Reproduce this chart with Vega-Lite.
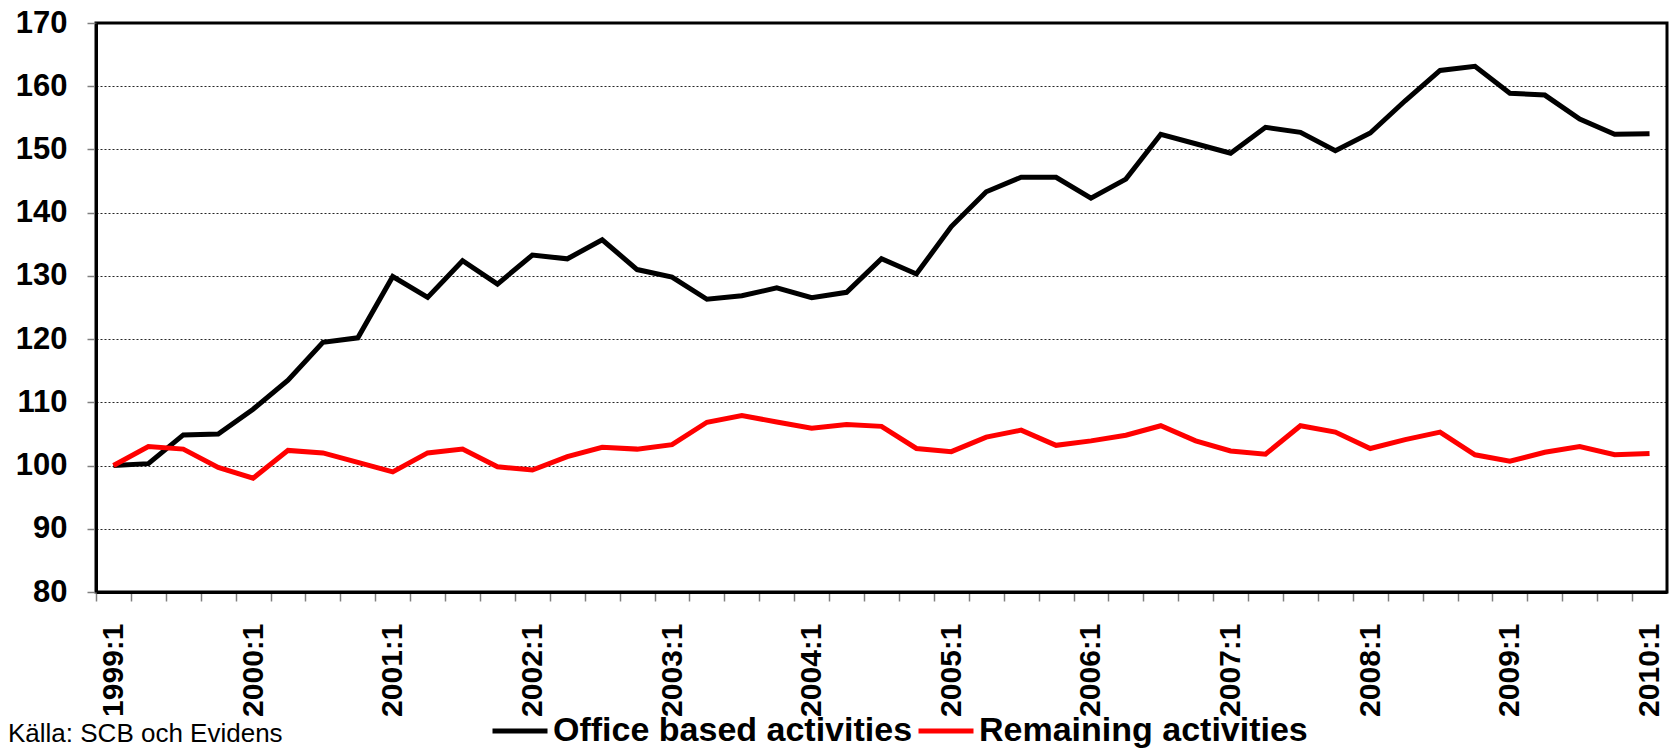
{
  "$schema": "https://vega.github.io/schema/vega-lite/v6.json",
  "width": 1571,
  "height": 569,
  "autosize": {"type": "none"},
  "padding": {"left": 96, "top": 23, "right": 5, "bottom": 158},
  "background": "white",
  "config": {
    "view": {"stroke": "black", "strokeWidth": 3},
    "font": "Liberation Sans"
  },
  "title": {
    "text": "Källa: SCB och Evidens",
    "orient": "bottom",
    "anchor": "start",
    "frame": "group",
    "font": "Liberation Sans",
    "fontSize": 26,
    "fontWeight": "normal",
    "color": "black",
    "dx": -88,
    "offset": -27
  },
  "data": {
    "values": [
      {"q":"1999:1","s":"Office based activities","v":100},
      {"q":"1999:2","s":"Office based activities","v":100.3},
      {"q":"1999:3","s":"Office based activities","v":104.85},
      {"q":"1999:4","s":"Office based activities","v":105.0},
      {"q":"2000:1","s":"Office based activities","v":108.9},
      {"q":"2000:2","s":"Office based activities","v":113.5},
      {"q":"2000:3","s":"Office based activities","v":119.5},
      {"q":"2000:4","s":"Office based activities","v":120.2},
      {"q":"2001:1","s":"Office based activities","v":129.9},
      {"q":"2001:2","s":"Office based activities","v":126.6},
      {"q":"2001:3","s":"Office based activities","v":132.4},
      {"q":"2001:4","s":"Office based activities","v":128.7},
      {"q":"2002:1","s":"Office based activities","v":133.3},
      {"q":"2002:2","s":"Office based activities","v":132.7},
      {"q":"2002:3","s":"Office based activities","v":135.7},
      {"q":"2002:4","s":"Office based activities","v":131.0},
      {"q":"2003:1","s":"Office based activities","v":129.8},
      {"q":"2003:2","s":"Office based activities","v":126.3},
      {"q":"2003:3","s":"Office based activities","v":126.85},
      {"q":"2003:4","s":"Office based activities","v":128.1},
      {"q":"2004:1","s":"Office based activities","v":126.55},
      {"q":"2004:2","s":"Office based activities","v":127.4},
      {"q":"2004:3","s":"Office based activities","v":132.7},
      {"q":"2004:4","s":"Office based activities","v":130.3},
      {"q":"2005:1","s":"Office based activities","v":137.8},
      {"q":"2005:2","s":"Office based activities","v":143.3},
      {"q":"2005:3","s":"Office based activities","v":145.6},
      {"q":"2005:4","s":"Office based activities","v":145.6},
      {"q":"2006:1","s":"Office based activities","v":142.3},
      {"q":"2006:2","s":"Office based activities","v":145.3},
      {"q":"2006:3","s":"Office based activities","v":152.4},
      {"q":"2006:4","s":"Office based activities","v":150.9},
      {"q":"2007:1","s":"Office based activities","v":149.4},
      {"q":"2007:2","s":"Office based activities","v":153.5},
      {"q":"2007:3","s":"Office based activities","v":152.7},
      {"q":"2007:4","s":"Office based activities","v":149.8},
      {"q":"2008:1","s":"Office based activities","v":152.6},
      {"q":"2008:2","s":"Office based activities","v":157.7},
      {"q":"2008:3","s":"Office based activities","v":162.5},
      {"q":"2008:4","s":"Office based activities","v":163.15},
      {"q":"2009:1","s":"Office based activities","v":158.9},
      {"q":"2009:2","s":"Office based activities","v":158.6},
      {"q":"2009:3","s":"Office based activities","v":154.8},
      {"q":"2009:4","s":"Office based activities","v":152.4},
      {"q":"2010:1","s":"Office based activities","v":152.5},
      {"q":"1999:1","s":"Remaining activities","v":100},
      {"q":"1999:2","s":"Remaining activities","v":103.0},
      {"q":"1999:3","s":"Remaining activities","v":102.6},
      {"q":"1999:4","s":"Remaining activities","v":99.7},
      {"q":"2000:1","s":"Remaining activities","v":98.0},
      {"q":"2000:2","s":"Remaining activities","v":102.4},
      {"q":"2000:3","s":"Remaining activities","v":102.0},
      {"q":"2000:4","s":"Remaining activities","v":100.5},
      {"q":"2001:1","s":"Remaining activities","v":99.0},
      {"q":"2001:2","s":"Remaining activities","v":102.0},
      {"q":"2001:3","s":"Remaining activities","v":102.6},
      {"q":"2001:4","s":"Remaining activities","v":99.8},
      {"q":"2002:1","s":"Remaining activities","v":99.3},
      {"q":"2002:2","s":"Remaining activities","v":101.4},
      {"q":"2002:3","s":"Remaining activities","v":102.9},
      {"q":"2002:4","s":"Remaining activities","v":102.6},
      {"q":"2003:1","s":"Remaining activities","v":103.3},
      {"q":"2003:2","s":"Remaining activities","v":106.85},
      {"q":"2003:3","s":"Remaining activities","v":107.9},
      {"q":"2003:4","s":"Remaining activities","v":106.9},
      {"q":"2004:1","s":"Remaining activities","v":105.9},
      {"q":"2004:2","s":"Remaining activities","v":106.5},
      {"q":"2004:3","s":"Remaining activities","v":106.2},
      {"q":"2004:4","s":"Remaining activities","v":102.7},
      {"q":"2005:1","s":"Remaining activities","v":102.2},
      {"q":"2005:2","s":"Remaining activities","v":104.5},
      {"q":"2005:3","s":"Remaining activities","v":105.6},
      {"q":"2005:4","s":"Remaining activities","v":103.2},
      {"q":"2006:1","s":"Remaining activities","v":103.9},
      {"q":"2006:2","s":"Remaining activities","v":104.8},
      {"q":"2006:3","s":"Remaining activities","v":106.3},
      {"q":"2006:4","s":"Remaining activities","v":103.9},
      {"q":"2007:1","s":"Remaining activities","v":102.3},
      {"q":"2007:2","s":"Remaining activities","v":101.8},
      {"q":"2007:3","s":"Remaining activities","v":106.3},
      {"q":"2007:4","s":"Remaining activities","v":105.3},
      {"q":"2008:1","s":"Remaining activities","v":102.7},
      {"q":"2008:2","s":"Remaining activities","v":104.1},
      {"q":"2008:3","s":"Remaining activities","v":105.3},
      {"q":"2008:4","s":"Remaining activities","v":101.7},
      {"q":"2009:1","s":"Remaining activities","v":100.7},
      {"q":"2009:2","s":"Remaining activities","v":102.1},
      {"q":"2009:3","s":"Remaining activities","v":103.0},
      {"q":"2009:4","s":"Remaining activities","v":101.7},
      {"q":"2010:1","s":"Remaining activities","v":101.9}
    ]
  },
  "mark": {"type": "line", "strokeWidth": 5},
  "encoding": {
    "x": {
      "field": "q",
      "type": "ordinal",
      "scale": {"paddingInner": 0, "paddingOuter": 0},
      "axis": {
        "title": null,
        "labelExpr": "indexof(datum.value, ':1') >= 0 ? datum.value : ''",
        "labelAngle": 270,
        "labelOverlap": false,
        "labelFont": "Liberation Sans",
        "labelFontWeight": "bold",
        "labelFontSize": 30,
        "labelColor": "black",
        "labelPadding": 22,
        "tickOffset": -17.46,
        "labelOffset": 17.46,
        "domainColor": "black",
        "domainWidth": 3,
        "tickColor": "#808080",
        "tickWidth": 1.5,
        "tickSize": 9,
        "grid": false
      }
    },
    "y": {
      "field": "v",
      "type": "quantitative",
      "scale": {"domain": [80, 170], "nice": false, "zero": false},
      "axis": {
        "title": null,
        "values": [80, 90, 100, 110, 120, 130, 140, 150, 160, 170],
        "labelFont": "Liberation Sans",
        "labelFontWeight": "bold",
        "labelFontSize": 31,
        "labelColor": "black",
        "labelPadding": 20,
        "domainColor": "black",
        "domainWidth": 3,
        "tickColor": "#808080",
        "tickWidth": 1.5,
        "tickSize": 9,
        "grid": true,
        "gridColor": "#000000",
        "gridDash": [2, 2],
        "gridWidth": 1,
        "gridOpacity": 0.85
      }
    },
    "color": {
      "field": "s",
      "type": "nominal",
      "scale": {
        "domain": ["Office based activities", "Remaining activities"],
        "range": ["#000000", "#FF0000"]
      },
      "legend": {
        "title": null,
        "orient": "none",
        "direction": "horizontal",
        "legendX": 394,
        "legendY": 678,
        "symbolType": "stroke",
        "symbolSize": 3025,
        "symbolStrokeWidth": 5,
        "labelFont": "Liberation Sans",
        "labelFontWeight": "bold",
        "labelFontSize": 34,
        "labelColor": "black",
        "labelOffset": 3,
        "columnPadding": -5,
        "labelLimit": 600
      }
    }
  }
}
